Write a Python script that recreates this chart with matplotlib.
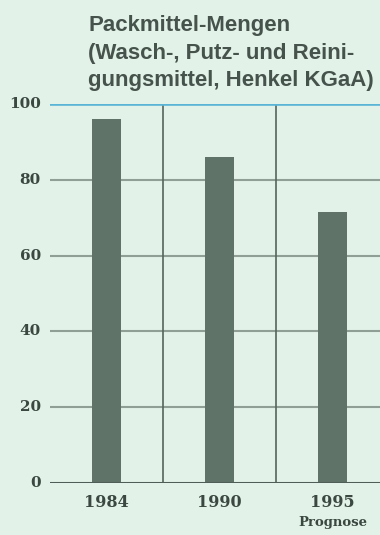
import matplotlib.pyplot as plt

# Packmittel-Mengen, Index (1984 = ca. 100)
years = ['1984', '1990', '1995']
values = [96, 86, 71.5]
yticks = [0, 20, 40, 60, 80, 100]

bg = '#e2f2e8'
bar_col = '#5f7369'
grid_col = '#8f9f96'
text_col = '#3b4741'

fig = plt.figure(figsize=(3.8, 5.35), dpi=100)
fig.patch.set_facecolor(bg)
ax = fig.add_axes([0.1316, 0.0972, 0.8684, 0.7084])
ax.set_facecolor(bg)

x = list(range(len(years)))
ax.set_xlim(-0.5, 2.42)
ax.set_ylim(0, 100)

# grid lines
for t in yticks[1:-1]:
    ax.axhline(t, color=grid_col, lw=1.5, zorder=1)
ax.axhline(0, color='#4f5f57', lw=2.2, zorder=3)
ax.axhline(100, color='#5ab4d6', lw=2.6, zorder=3)
for sep in [0.5, 1.5]:
    ax.axvline(sep, color='#56645d', lw=1.2, zorder=1)

ax.bar(x, values, width=0.26, color=bar_col, zorder=2)

for s in ax.spines.values():
    s.set_visible(False)
ax.set_xticks([])
ax.set_yticks([])

# y labels
for t in yticks:
    ax.text(-0.58, t, str(t), ha='right', va='center', fontsize=11,
            family='DejaVu Serif', fontweight='bold', color=text_col, clip_on=False)

# x labels
for i, yr in enumerate(years):
    ax.text(i, -3.0, yr, ha='center', va='top', fontsize=11.5,
            family='DejaVu Serif', fontweight='bold', color=text_col, clip_on=False)
ax.text(2, -8.8, 'Prognose', ha='center', va='top', fontsize=9.5,
        family='DejaVu Serif', fontweight='bold', color=text_col, clip_on=False)

# title
fig.text(0.232, 0.972, 'Packmittel-Mengen\n(Wasch-, Putz- und Reini-\ngungsmittel, Henkel KGaA)',
         ha='left', va='top', fontsize=16, fontweight='bold', family='Liberation Sans',
         color='#46524c', linespacing=1.42)

fig.savefig('out.png', dpi=100, facecolor=bg)
